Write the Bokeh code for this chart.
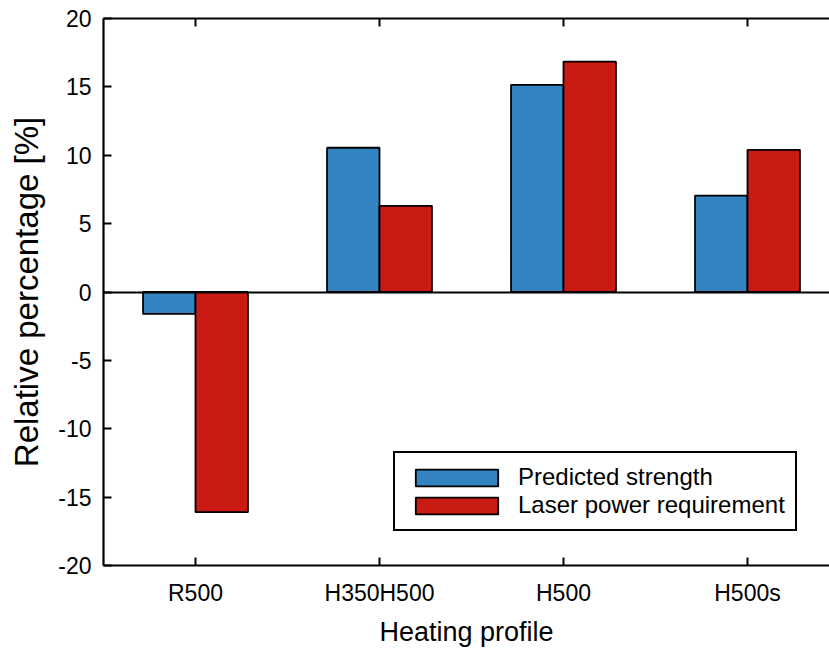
import math
from bokeh.plotting import figure
from bokeh.models import Range1d, FixedTicker, LinearAxis, Legend, LegendItem, ColumnDataSource
from bokeh.embed import file_html
from bokeh.resources import INLINE

categories = ["R500", "H350H500", "H500", "H500s"]
predicted_strength = [-1.6, 10.55, 15.15, 7.05]
laser_power = [-16.1, 6.3, 16.85, 10.4]
y_ticks = [-20, -15, -10, -5, 0, 5, 10, 15, 20]

FONT = "Liberation Sans"
BLUE = "#3283c0"
RED = "#c91a14"

pos = [i + 0.5 for i in range(len(categories))]
bw = 0.285

p = figure(width=829, height=649, output_backend="svg", toolbar_location=None,
           x_range=Range1d(0, 726 / 184), y_range=Range1d(y_ticks[0], y_ticks[-1]),
           frame_width=726, frame_height=547,
           min_border_left=103, min_border_right=0, min_border_top=18, min_border_bottom=84,
           x_axis_location="below")
p.grid.visible = False
p.outline_line_color = None
p.background_fill_color = "white"
p.border_fill_color = "white"

src = ColumnDataSource(dict(
    xb=[c - bw / 2 for c in pos], xr=[c + bw / 2 for c in pos],
    ps=predicted_strength, lp=laser_power))

rb = p.vbar(x="xb", top="ps", bottom=0, width=bw, source=src,
            fill_color=BLUE, line_color="black", line_width=1.8)
rr = p.vbar(x="xr", top="lp", bottom=0, width=bw, source=src,
            fill_color=RED, line_color="black", line_width=1.8)

# zero line
p.hspan(y=[0], line_color="black", line_width=1.8)

# mirrored category ticks on the top edge
p.scatter(x=pos, y=[y_ticks[-1]] * len(pos), marker="dash", angle=math.pi / 2,
          size=16, line_color="black", line_width=2)

xa = p.xaxis[0]
xa.ticker = FixedTicker(ticks=pos)
xa.major_label_overrides = {pos[i]: categories[i] for i in range(len(categories))}
xa.minor_tick_line_color = None
ya = p.yaxis[0]
ya.ticker = FixedTicker(ticks=y_ticks)
ya.major_label_overrides = {float(t): str(t) for t in y_ticks}
ya.minor_tick_line_color = None
for ax in (xa, ya):
    ax.major_tick_in = 8
    ax.major_tick_out = 0
    ax.axis_line_width = 2.2
    ax.major_tick_line_width = 2
    ax.axis_line_color = "black"
    ax.major_tick_line_color = "black"
    ax.major_label_text_font = FONT
    ax.major_label_text_font_size = "23px"
    ax.major_label_text_color = "black"
    ax.axis_label_text_font = FONT
    ax.axis_label_text_font_style = "normal"
    ax.axis_label_text_color = "black"
xa.axis_label = "Heating profile"
ya.axis_label = "Relative percentage [%]"
xa.axis_label_text_font_size = "27px"
ya.axis_label_text_font_size = "33px"
xa.major_label_standoff = 14
xa.axis_label_standoff = 8
ya.major_label_standoff = 12
ya.axis_label_standoff = 10

top = LinearAxis(ticker=FixedTicker(ticks=[]), major_tick_in=0, major_tick_out=0,
                 axis_line_width=2.2, minor_tick_line_color=None)
p.add_layout(top, "above")

legend = Legend(items=[LegendItem(label="Predicted strength", renderers=[rb]),
                       LegendItem(label="Laser power requirement", renderers=[rr])],
                location=(290, 34), orientation="vertical",
                border_line_color="black", border_line_width=2, border_line_alpha=1.0,
                label_text_font=FONT, label_text_font_size="24px", label_text_color="black",
                glyph_width=103, glyph_height=21, label_height=21,
                padding=10, spacing=0, margin=0, label_standoff=10)
p.add_layout(legend, "center")

open("out.html", "w").write(file_html(p, INLINE))
